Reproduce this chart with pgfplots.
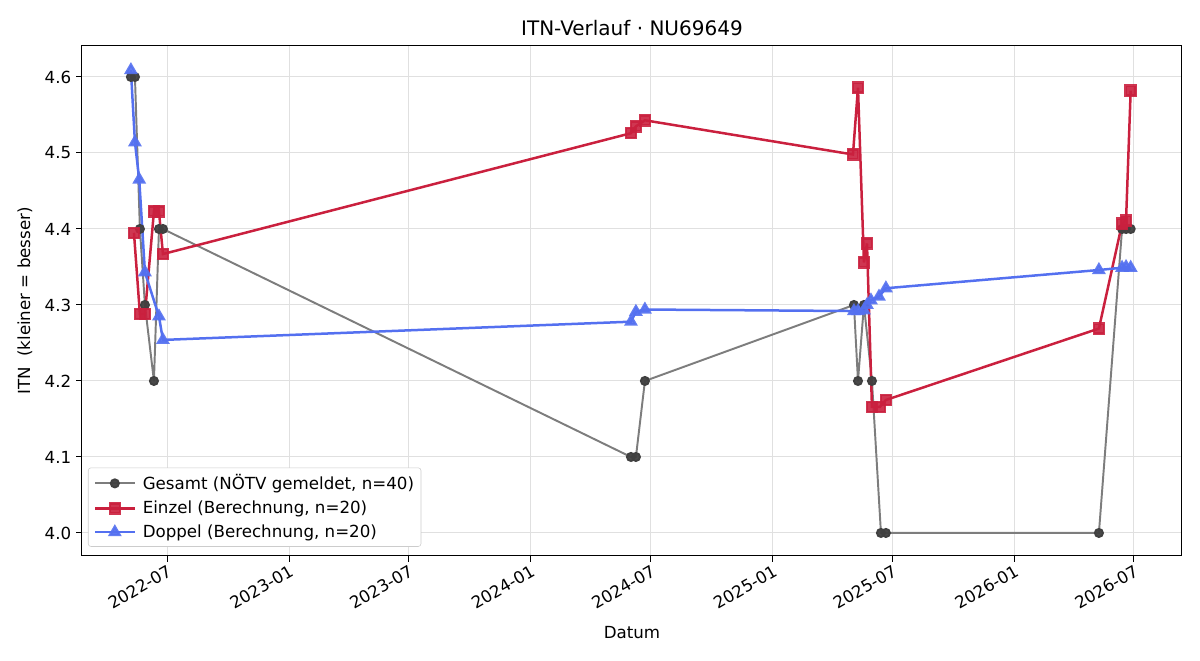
\documentclass[border=0pt]{standalone}
\usepackage{fontspec}
\setmainfont{DejaVu Sans}
\usepackage{pgfplots}
\pgfplotsset{compat=1.18}
\usetikzlibrary{calc}
\definecolor{gline}{RGB}{125,125,125}
\definecolor{gmark}{RGB}{64,64,64}
\definecolor{rline}{RGB}{202,32,62}
\definecolor{bline}{RGB}{84,112,240}
\pgfplotstableread{
x y
-54.9 4.6
-48.8 4.6
-41.3 4.4
-33.7 4.3
-20.1 4.2
-12.5 4.4
-6.5 4.4
700.8 4.1
708.3 4.1
721.9 4.2
1037.8 4.3
1043.9 4.2
1052.9 4.3
1065.0 4.2
1078.6 4.0
1086.1 4.0
1408 4.0
1443 4.4
1449 4.4
1456 4.4
}\gesamt
\pgfplotstableread{
x y
-50.3 4.395
-41.3 4.288
-33.7 4.288
-20.1 4.423
-12.5 4.423
-6.5 4.367
700.8 4.526
708.3 4.535
721.9 4.543
1036.3 4.498
1043.9 4.586
1052.9 4.356
1057.5 4.381
1065.0 4.166
1077.1 4.166
1086.1 4.175
1408 4.269
1443 4.407
1449 4.411
1456 4.582
}\einzel
\pgfplotstableread{
x y
-54.9 4.609
-48.8 4.514
-42.3 4.465
-33.7 4.343
-12.5 4.285
-6.5 4.254
700.8 4.278
708.3 4.291
721.9 4.294
1037.8 4.292
1043.9 4.292
1052.9 4.293
1057.5 4.300
1063.5 4.306
1075.6 4.311
1086.1 4.322
1408 4.346
1443 4.349
1449 4.350
1456 4.349
}\doppel
\begin{document}
\begin{tikzpicture}
\begin{axis}[
  scale only axis,
  width=792pt, height=367.2pt,
  xmin=-128.9, xmax=1533.5,
  ymin=3.9697, ymax=4.6408,
  xtick={0,184,365,549,731,915,1096,1280,1461},
  xticklabels={2022-07,2023-01,2023-07,2024-01,2024-07,2025-01,2025-07,2026-01,2026-07},
  xticklabel style={rotate=30, anchor=north east, font=\fontsize{12}{14}\selectfont, inner sep=1pt},
  ytick={4.0,4.1,4.2,4.3,4.4,4.5,4.6},
  yticklabel style={/pgf/number format/fixed, /pgf/number format/precision=1, /pgf/number format/fixed zerofill, font=\fontsize{12}{14}\selectfont},
  /pgf/number format/assume math mode=true,
  scaled y ticks=false,
  tick pos=left,
  tick align=outside,
  major tick length=4.2pt,
  tick style={black, line width=0.7pt},
  axis line style={black, line width=0.7pt},
  grid=major,
  grid style={black!12, line width=0.7pt},
  title={ITN-Verlauf · NU69649},
  title style={font=\fontsize{14.4}{16}\selectfont, yshift=-2pt},
  xlabel={Datum},
  ylabel={ITN\ \ (kleiner = besser)},
  label style={font=\fontsize{12}{14}\selectfont},
  xlabel style={yshift=-7pt},
  ylabel style={yshift=2pt},
  legend style={at={(rel axis cs:0.0055,0.018)}, anchor=south west, font=\fontsize{12}{14}\selectfont, draw=black!20, rounded corners=2pt, row sep=4.5pt, inner sep=4pt, nodes={inner sep=1pt}},
  legend cell align=left,
  legend image code/.code={\draw[#1] (0cm,0cm) -- (1.0cm,0cm); \draw[#1,only marks] plot coordinates {(0.5cm,0cm)};},
  legend columns=1,
]
\addplot[gline, line width=1.4pt, mark=*, mark size=2.9pt, mark options={draw=gmark, fill=gmark, fill opacity=0.95}] table[x=x,y=y]{\gesamt};
\addlegendentry{\hspace{4pt}Gesamt (NÖTV gemeldet, n=40)}
\addplot[rline, line width=1.8pt, mark=square*, mark size=3.6pt, mark options={fill=rline, opacity=0.9, solid}] table[x=x,y=y]{\einzel};
\addlegendentry{\hspace{4pt}Einzel (Berechnung, n=20)}
\addplot[bline, line width=1.8pt, mark=triangle*, mark size=4pt, mark options={fill=bline, opacity=0.9, solid}] table[x=x,y=y]{\doppel};
\addlegendentry{\hspace{4pt}Doppel (Berechnung, n=20)}
\end{axis}
\pgfresetboundingbox
\path[use as bounding box] ($(current axis.south west)+(-59pt,-74.9pt)$) rectangle ($(current axis.north east)+(13pt,33.1pt)$);
\end{tikzpicture}
\end{document}
